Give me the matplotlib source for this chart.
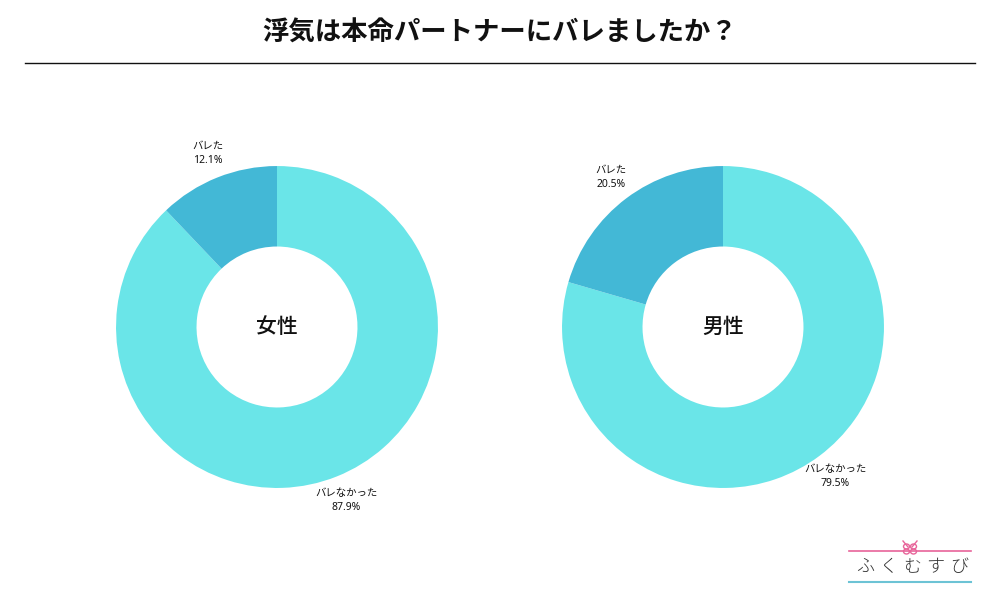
import matplotlib
matplotlib.use("Agg")
import matplotlib.pyplot as plt
from matplotlib.patches import Ellipse

plt.rcParams['font.family'] = ['Noto Sans CJK JP', 'DejaVu Sans']

title = "浮気は本命パートナーにバレましたか？"
categories = ["バレなかった", "バレた"]
groups = ["女性", "男性"]
values_female = [87.9, 12.1]
values_male = [79.5, 20.5]
colors = ["#6ae5e8", "#43b8d6"]

fig = plt.figure(figsize=(10, 6), dpi=100)
W, H = 1000, 600

# overlay for title line and logo (pixel coordinates)
ov = fig.add_axes([0, 0, 1, 1])
ov.set_xlim(0, W)
ov.set_ylim(H, 0)
ov.axis("off")
ov.text(500, 33, title, ha="center", va="center", fontsize=19, fontweight="bold", color="#111111")
ov.plot([25, 975], [63, 63], color="#111111", lw=1.0)

def donut(cx, cy, vals, label):
    size = 400
    ax = fig.add_axes([(cx - size / 2) / W, 1 - (cy + size / 2) / H, size / W, size / H])
    labels = [f"{c}\n{v:.1f}%" for c, v in zip(categories, vals)]
    wedges, texts = ax.pie(vals, colors=colors, startangle=90, counterclock=False,
                           radius=1.006, labels=labels, labeldistance=1.16,
                           wedgeprops=dict(width=0.503, edgecolor="none"),
                           textprops=dict(fontsize=7.5, color="#111111", linespacing=1.35,
                                          family=['Noto Sans', 'Noto Sans CJK JP']))
    for t in texts:
        t.set_ha("center")
        t.set_va("center")
    ax.text(0, 0, label, ha="center", va="center", fontsize=15, fontweight="medium",
            color="#111111")
    ax.set_xlim(-1.25, 1.25)
    ax.set_ylim(-1.25, 1.25)
    ax.set_aspect("equal")
    ax.axis("off")

donut(277, 327, values_female, groups[0])
donut(723, 327, values_male, groups[1])

# logo
pink = "#e8649a"
ov.plot([849, 971], [551, 551], color=pink, lw=1.2)
ov.plot([849, 971], [582, 582], color="#6cc3d5", lw=1.5)
for dx in (-3.5, 3.5):
    for dy in (-2.5, 2.5):
        ov.add_patch(Ellipse((910 + dx, 549 + dy), 6, 5, fill=False, ec=pink, lw=1.0))
ov.plot([903, 908], [541, 547], color=pink, lw=1.0)
ov.plot([917, 912], [541, 547], color=pink, lw=1.0)
for i, ch in enumerate("ふくむすび"):
    ov.text(865 + i * 23.5, 567, ch, ha="center", va="center", fontsize=13,
            color="#333333", fontweight="light")

fig.savefig("out.png", dpi=100)
